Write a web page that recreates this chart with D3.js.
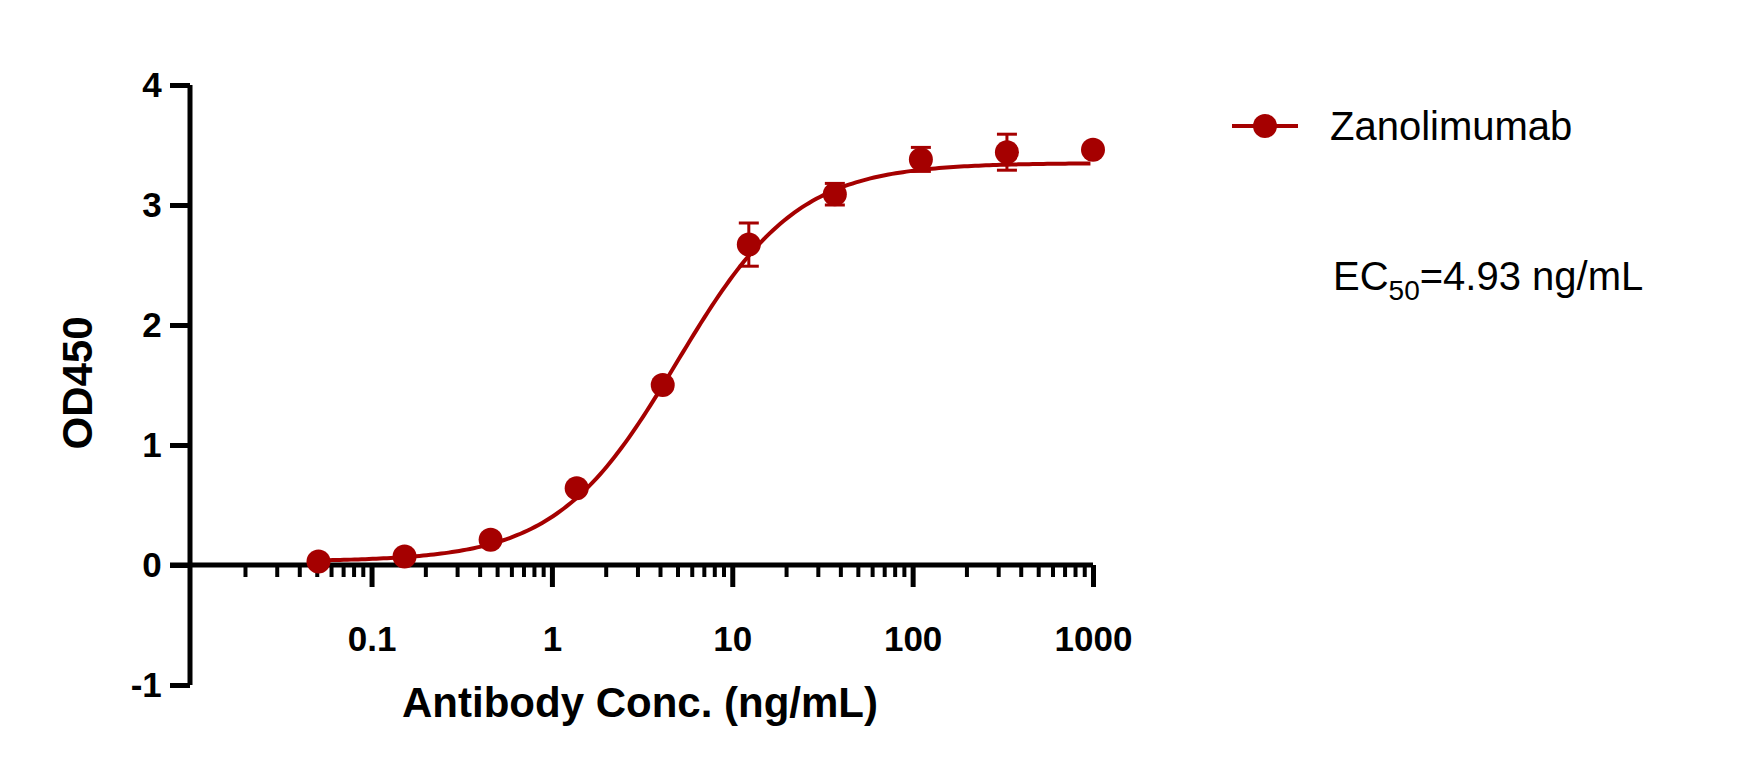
<!DOCTYPE html><html><head><meta charset="utf-8"><script src="https://cdn.jsdelivr.net/npm/d3@7"></script>
<style>body{margin:0;background:#fff}text{font-family:"Liberation Sans",Arial,sans-serif}</style></head><body><svg id="c" width="1758" height="765"></svg><script>
const conc=[1000,333.3,111.1,37.04,12.35,4.115,1.372,0.4572,0.1524,0.0508];
const od=[3.46,3.44,3.38,3.09,2.67,1.50,0.64,0.21,0.07,0.03];
const err=[0.02,0.15,0.10,0.09,0.18,0.03,0.03,0.02,0.02,0.02];
const fit={bottom:0.03,top:3.35,ec50:4.93,hill:1.3};
const xTicks=[0.1,1,10,100,1000];
const yTicks=[-1,0,1,2,3,4];
const col="#a50000";
const svg=d3.select("#c");
const x=d3.scaleLog().domain([0.00985,1000]).range([190,1093]);
const y=d3.scaleLinear().domain([-1,4]).range([685,85]);
const ya=svg.append("g").attr("transform","translate(190,0)").call(d3.axisLeft(y).tickValues(yTicks).tickSize(20).tickFormat(d=>String(d)));
ya.select(".domain").attr("d",`M0,${y(4)}V${y(-1)}`);
const minor=[];for(let e=-2;e<=2;e++)for(let k=2;k<=9;k++)minor.push(k*Math.pow(10,e));
const xa=svg.append("g").attr("transform",`translate(0,${y(0)})`);
xa.call(d3.axisBottom(x).tickValues(xTicks).tickSize(22).tickFormat(d=>String(d)));
xa.selectAll(".tick text").attr("dy","1.75em");
xa.select(".domain").attr("d",`M${x(0.00985)-20},0H${x(1000)}`);
xa.selectAll(".minor").data(minor).enter().append("line").attr("x1",d=>x(d)).attr("x2",d=>x(d)).attr("y1",0).attr("y2",12).attr("stroke","#000").attr("stroke-width",4);
svg.selectAll(".domain").attr("stroke","#000").attr("stroke-width",5);
svg.selectAll(".tick line").attr("stroke","#000").attr("stroke-width",5);
svg.selectAll(".tick text").attr("font-size",35).attr("font-weight","bold").attr("fill","#000").style("font-family","Liberation Sans,Arial");
ya.selectAll(".tick text").attr("dx","-0.15em");
const f=c=>fit.bottom+(fit.top-fit.bottom)/(1+Math.pow(fit.ec50/c,fit.hill));
const xs=d3.range(Math.log10(0.0508),Math.log10(1000)+0.001,0.02).map(v=>Math.pow(10,v));
svg.append("path").attr("d",d3.line().x(d=>x(d)).y(d=>y(f(d)))(xs)).attr("fill","none").attr("stroke",col).attr("stroke-width",4);
const eb=svg.append("g").attr("stroke",col).attr("stroke-width",3);
conc.forEach((c,i)=>{if(err[i]<0.05)return;const cx=x(c);
eb.append("line").attr("x1",cx).attr("x2",cx).attr("y1",y(od[i]+err[i])).attr("y2",y(od[i]-err[i]));
[od[i]+err[i],od[i]-err[i]].forEach(v=>eb.append("line").attr("x1",cx-10).attr("x2",cx+10).attr("y1",y(v)).attr("y2",y(v)));});
svg.selectAll(".pt").data(conc).enter().append("circle").attr("cx",d=>x(d)).attr("cy",(d,i)=>y(od[i])).attr("r",12).attr("fill",col);
svg.append("text").attr("x",640).attr("y",717).attr("text-anchor","middle").attr("font-size",42).attr("font-weight","bold").text("Antibody Conc. (ng/mL)");
svg.append("text").attr("transform","translate(92,383) rotate(-90)").attr("text-anchor","middle").attr("font-size",42).attr("font-weight","bold").text("OD450");
svg.append("line").attr("x1",1232).attr("x2",1298).attr("y1",126).attr("y2",126).attr("stroke",col).attr("stroke-width",4);
svg.append("circle").attr("cx",1265).attr("cy",126).attr("r",12).attr("fill",col);
svg.append("text").attr("x",1330).attr("y",140).attr("font-size",40).text("Zanolimumab");
const t=svg.append("text").attr("x",1333).attr("y",290).attr("font-size",40);
t.append("tspan").text("EC");t.append("tspan").attr("font-size",28).attr("dy",10).text("50");t.append("tspan").attr("dy",-10).text("=4.93 ng/mL");
</script></body></html>
